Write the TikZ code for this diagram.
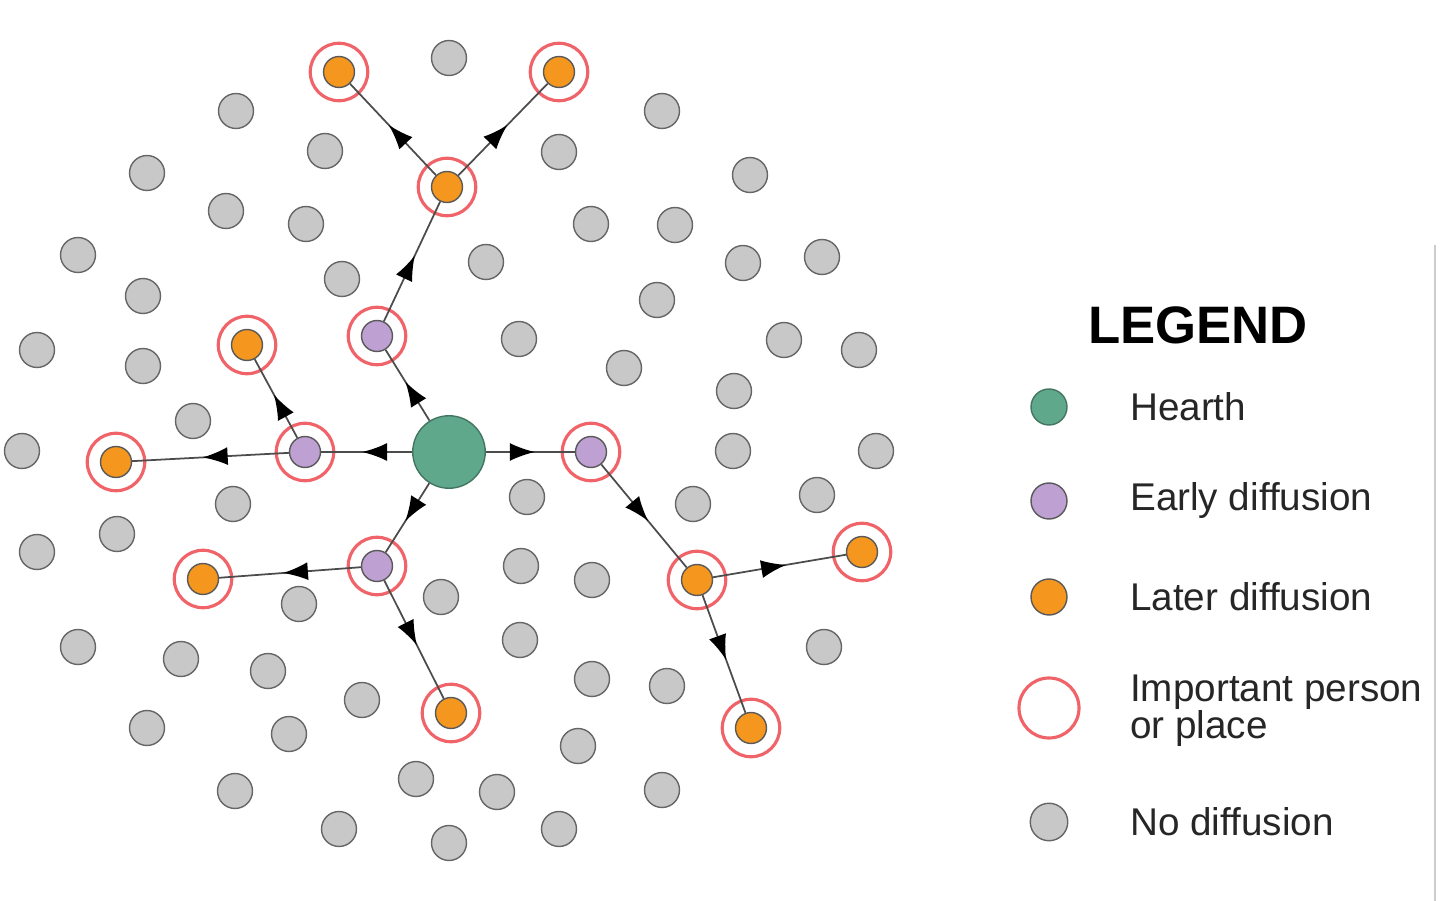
\documentclass[tikz,border=0pt]{standalone}
\usepackage{fontspec}
\setmainfont{Liberation Sans}
\usetikzlibrary{decorations.markings,arrows.meta}
\definecolor{hearthgreen}{RGB}{96,168,140}
\definecolor{earlypurple}{RGB}{190,160,210}
\definecolor{lateorange}{RGB}{245,150,30}
\definecolor{nogray}{RGB}{200,200,200}
\definecolor{ringred}{RGB}{240,100,105}
\begin{document}
\begin{tikzpicture}[x=0.02cm,y=-0.02cm,
    % node looks
    gray dot/.style={circle,draw=gray!80!black,line width=0.8pt,fill=nogray,minimum size=0.7cm,inner sep=0pt},
    hearth/.style={circle,draw=hearthgreen!70!black,line width=0.8pt,fill=hearthgreen,minimum size=1.45cm,inner sep=0pt},
    early/.style={circle,draw=gray!70!black,line width=0.8pt,fill=earlypurple,minimum size=0.62cm,inner sep=0pt,
                  append after command={node[ring] at (\tikzlastnode) {}}},
    later/.style={circle,draw=gray!70!black,line width=0.8pt,fill=lateorange,minimum size=0.62cm,inner sep=0pt,
                  append after command={node[ring] at (\tikzlastnode) {}}},
    ring/.style={circle,draw=ringred,line width=1.8pt,minimum size=1.15cm,inner sep=0pt},
    spread/.style={draw=gray!60!black,line width=1pt,postaction={decorate},
                   decoration={markings,mark=at position 0.55 with {\arrow[black]{Latex[length=0.5cm,width=0.36cm]}}}},
    legend text/.style={anchor=west,font=\fontsize{22}{24}\selectfont,text=black!85}]
  \useasboundingbox (0,0) rectangle (1440,901);
  % no diffusion
  \foreach \p [count=\i] in {(449,58),(236,111),(662,111),(325,151),(559,152),(147,173),(750,175),(226,211),
      (306,224),(591,224),(675,225),(78,255),(486,262),(743,263),(822,257),(143,296),(342,279),(657,300),
      (37,350),(143,366),(519,339),(784,340),(859,350),(624,368),(193,421),(734,391),(22,451),(733,451),
      (876,451),(233,504),(527,497),(693,504),(817,495),(37,552),(117,534),(521,566),(592,580),(299,604),
      (441,597),(78,647),(181,659),(268,671),(520,640),(592,679),(667,686),(824,647),(362,700),(147,728),
      (289,734),(578,746),(416,779),(497,792),(662,790),(235,791),(339,829),(449,843),(559,829)}
    \node[gray dot] (g\i) at \p {};
  % hearth and diffusion
  \node[hearth] (hearth) at (449,452) {};
  \node[early] (e1) at (377,336) {};
  \node[early] (e2) at (305,452) {};
  \node[early] (e3) at (591,452) {};
  \node[early] (e4) at (377,566) {};
  \node[later] (l1) at (447,187) {};
  \node[later] (l2) at (339,72) {};
  \node[later] (l3) at (559,72) {};
  \node[later] (l4) at (247,345) {};
  \node[later] (l5) at (116,462) {};
  \node[later] (l6) at (203,579) {};
  \node[later] (l7) at (451,713) {};
  \node[later] (l8) at (697,580) {};
  \node[later] (l9) at (862,552) {};
  \node[later] (l10) at (751,728) {};
  \foreach \a/\b in {hearth/e1,hearth/e2,hearth/e3,hearth/e4,e1/l1,l1/l2,l1/l3,e2/l4,e2/l5,
                     e4/l6,e4/l7,e3/l8,l8/l9,l8/l10}
    \path[spread] (\a) -- (\b);
  % legend
  \draw[gray!40,line width=1pt] (1435,245) -- (1435,901);
  \node[font=\fontsize{30}{32}\selectfont\bfseries] (legend) at (1198,325) {LEGEND};
  \node[hearth,minimum size=0.72cm] (k1) at (1049,407) {};
  \node[circle,draw=gray!70!black,line width=0.8pt,fill=earlypurple,minimum size=0.72cm] (k2) at (1049,501) {};
  \node[circle,draw=gray!70!black,line width=0.8pt,fill=lateorange,minimum size=0.72cm] (k3) at (1049,597) {};
  \node[ring,minimum size=1.2cm] (k4) at (1049,708) {};
  \node[gray dot,minimum size=0.75cm] (k5) at (1049,822) {};
  \node[legend text] (t1) at (1124,407) {Hearth};
  \node[legend text] (t2) at (1124,501) {Early diffusion};
  \node[legend text] (t3) at (1124,597) {Later diffusion};
  \node[legend text,align=left,font=\fontsize{22}{21}\selectfont] (t4) at (1124,711) {Important person\\or place};
  \node[legend text] (t5) at (1124,822) {No diffusion};
\end{tikzpicture}
\end{document}
